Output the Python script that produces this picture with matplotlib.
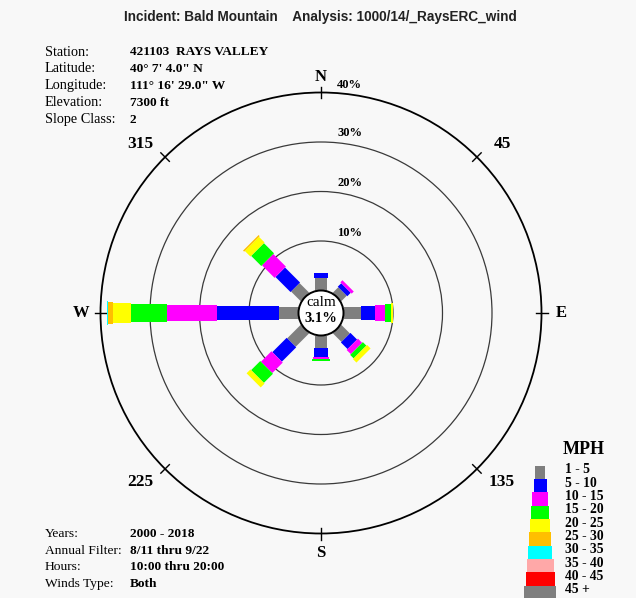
import numpy as np
import matplotlib
matplotlib.use("Agg")
import matplotlib.pyplot as plt
from matplotlib.patches import Polygon, Circle, Rectangle

# ---- wind rose data: percent of observations per direction and speed class ----
directions = ["N", "NE", "E", "SE", "S", "SW", "W", "NW"]
dir_angles = [0, 45, 90, 135, 180, 225, 270, 315]          # compass degrees

speed_classes = ["1 - 5", "5 - 10", "10 - 15", "15 - 20", "20 - 25",
                 "25 - 30", "30 - 35", "35 - 40", "40 - 45", "45 +"]
class_colors = ["#7f7f7f", "#0000ff", "#ff00ff", "#00ff00", "#ffff00",
                "#ffbf00", "#00ffff", "#ffa8a8", "#ff0000", "#7f7f7f"]

pct_1_5   = [2.5, 1.6, 3.5, 2.5, 2.6, 3.9, 3.9, 2.8]
pct_5_10  = [1.0, 1.0, 2.8, 1.9, 1.7, 4.1, 12.6, 4.3]
pct_10_15 = [0.0, 0.6, 2.1, 1.2, 0.5, 3.0, 10.1, 3.6]
pct_15_20 = [0.0, 0.0, 1.1, 1.0, 0.4, 2.6, 7.2, 2.9]
pct_20_25 = [0.0, 0.0, 0.4, 1.0, 0.0, 1.1, 3.7, 1.6]
pct_25_30 = [0.0, 0.0, 0.0, 0.0, 0.0, 0.0, 1.0, 0.3]
pct_30_35 = [0.0, 0.0, 0.0, 0.0, 0.0, 0.0, 0.2, 0.0]
pct_35_40 = [0.0] * 8
pct_40_45 = [0.0] * 8
pct_45_up = [0.0] * 8
calm_pct = 3.1

ring_levels = [10, 20, 30, 40]
ring_labels = ["10%", "20%", "30%", "40%"]
compass_labels = ["N", "45", "E", "135", "S", "225", "W", "315"]

title = "Incident: Bald Mountain    Analysis: 1000/14/_RaysERC_wind"
top_keys = ["Station:", "Latitude:", "Longitude:", "Elevation:", "Slope Class:"]
top_vals = ["421103  RAYS VALLEY", "40\u00b0 7' 4.0\" N", "111\u00b0 16' 29.0\" W",
            "7300 ft", "2"]
bottom_keys = ["Years:", "Annual Filter:", "Hours:", "Winds Type:"]
bottom_vals = ["2000 - 2018", "8/11 thru 9/22", "10:00 thru 20:00", "Both"]

# ---- layout ----
W_PX, H_PX = 636, 598
CX, CY = 321, 313          # rose centre in pixels
K = 4.95                   # pixels per percent
CALM_R = 22.5 / K          # calm circle radius in percent units
bar_width_px = [12, 13.5, 16, 18, 20, 22, 24, 27, 29, 32]
legend_width_px = [10, 13, 16, 18, 20, 22, 24, 27, 29, 32]

serif = ["Liberation Serif", "DejaVu Serif"]
sans = ["Liberation Sans", "DejaVu Sans"]
BG = "#f8f8f8"

fig = plt.figure(figsize=(W_PX / 100, H_PX / 100), dpi=100, facecolor=BG)
ax = fig.add_axes([0, 0, 1, 1])
ax.set_facecolor(BG)
ax.set_xlim(-CX / K, (W_PX - CX) / K)
ax.set_ylim(-(H_PX - CY) / K, CY / K)
ax.set_aspect("equal")
ax.axis("off")


def px(v):
    return v / K


def fx(x):
    return x / W_PX


def fy(y):
    return 1 - y / H_PX


# rings
for lvl, lab in zip(ring_levels, ring_labels):
    r = CALM_R + lvl
    outer = lvl == max(ring_levels)
    ax.add_patch(Circle((0, 0), r, fill=False,
                        ec="#000000" if outer else "#3a3a3a",
                        lw=1.3 if outer else 0.9, zorder=2))
    ax.text(px(16), r + px(8.5 if not outer else 7), lab, ha="left", va="center",
            fontsize=9, fontweight="bold", family=serif, zorder=5)

# compass ticks and labels on the outer ring
r_out = CALM_R + max(ring_levels)
for ang, lab in zip(dir_angles, compass_labels):
    t = np.deg2rad(ang)
    u = np.array([np.sin(t), np.cos(t)])
    ax.plot(*np.column_stack([u * (r_out - px(6)), u * (r_out + px(6))]),
            color="black", lw=1.0, zorder=3)
    if ang % 90 != 0:
        pos = (np.sin(t) * px(256), np.cos(t) * px(239))
        size = 12.5
    else:
        rl = px(236) if ang == 0 else px(240)
        pos = tuple(u * rl)
        size = 12
    ax.text(*pos, lab, ha="center", va="center", fontsize=size,
            fontweight="bold", family=serif, zorder=5)

# bars: stacked speed classes outward from the calm circle
class_values = [pct_1_5, pct_5_10, pct_10_15, pct_15_20, pct_20_25,
                pct_25_30, pct_30_35, pct_35_40, pct_40_45, pct_45_up]
stack = np.array(class_values)          # classes x directions
cum = np.cumsum(stack, axis=0)
for j, ang in enumerate(dir_angles):
    t = np.deg2rad(ang)
    u = np.array([np.sin(t), np.cos(t)])
    v = np.array([np.cos(t), -np.sin(t)])
    for i in range(stack.shape[0]):
        if stack[i, j] <= 0:
            continue
        r0 = CALM_R + (cum[i, j] - stack[i, j])
        r1 = CALM_R + cum[i, j]
        hw = px(bar_width_px[i]) / 2
        pts = [u * r0 + v * hw, u * r1 + v * hw, u * r1 - v * hw, u * r0 - v * hw]
        ax.add_patch(Polygon(pts, closed=True, fc=class_colors[i], ec="none",
                             zorder=4))

# calm circle
ax.add_patch(Circle((0, 0), CALM_R, fc="white", ec="black", lw=1.4, zorder=6))
ax.text(0, px(11), "calm", ha="center", va="center", fontsize=11,
        family=serif, zorder=7)
ax.text(0, -px(5), f"{calm_pct:.1f}%", ha="center", va="center", fontsize=10.5,
        fontweight="bold", family=serif, zorder=7)

# title
fig.text(fx(320), fy(17), title, ha="center", va="center", fontsize=9.8,
         fontweight="bold", family=sans, color="#222222")

# station info
for k, (key, val) in enumerate(zip(top_keys, top_vals)):
    y = 52 + k * 17
    fig.text(fx(45), fy(y), key, ha="left", va="center", fontsize=10.3, family=serif)
    fig.text(fx(130), fy(y), val, ha="left", va="center", fontsize=9.6,
             fontweight="bold", family=serif)
for k, (key, val) in enumerate(zip(bottom_keys, bottom_vals)):
    y = 534 + k * 16.7
    fig.text(fx(45), fy(y), key, ha="left", va="center", fontsize=9.7, family=serif)
    fig.text(fx(130), fy(y), val, ha="left", va="center", fontsize=9.6,
             fontweight="bold", family=serif)

# speed legend
fig.text(fx(584), fy(450), "MPH", ha="center", va="center", fontsize=13,
         fontweight="bold", family=serif)
box_h = 13.33
for i, (lab, col) in enumerate(zip(speed_classes, class_colors)):
    top = 465.7 + i * box_h
    w = legend_width_px[i]
    fig.patches.append(Rectangle((fx(540 - w / 2), fy(top + box_h)), w / W_PX,
                                 box_h / H_PX, transform=fig.transFigure,
                                 fc=col, ec="none"))
    fig.text(fx(565), fy(top + box_h / 2 - 2.5), lab, ha="left", va="center",
             fontsize=9.8, fontweight="bold", family=serif)

fig.savefig("out.png", dpi=100, facecolor=BG)
